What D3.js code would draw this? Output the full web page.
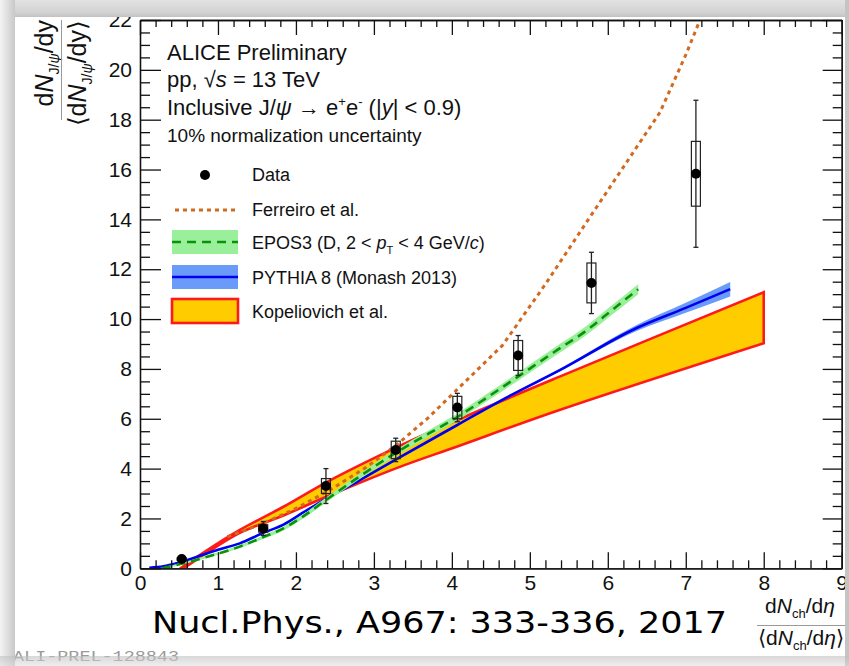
<!DOCTYPE html>
<html>
<head>
<meta charset="utf-8">
<script src="https://cdn.jsdelivr.net/npm/d3@7"></script>
<style>
  html, body { margin: 0; padding: 0; background: #fff; }
  svg { display: block; font-family: "Liberation Sans", Arial, Helvetica, sans-serif; }
</style>
</head>
<body>
<svg id="chart" width="849" height="666"></svg>
<script>
// Self-normalised inclusive J/psi yield vs. self-normalised charged-particle multiplicity

// Measured points
const dataX   = [0.535, 1.58, 2.385, 3.28, 4.07, 4.85, 5.79, 7.13];
const dataY   = [0.37, 1.60, 3.30, 4.75, 6.45, 8.54, 11.45, 15.83];
const statErr = [0.06, 0.28, 0.70, 0.47, 0.57, 0.80, 1.23, 2.95];
const sysErr  = [0.05, 0.15, 0.30, 0.35, 0.45, 0.60, 0.80, 1.30];

// Ferreiro et al.
const ferreiroX = [1.12, 1.58, 2.0, 2.44, 2.9, 3.29, 3.7, 4.06, 4.65, 5.2, 5.73, 6.2, 6.67, 7.0, 7.3];
const ferreiroY = [1.27, 1.8, 2.4, 3.15, 4.05, 4.95, 6.05, 7.15, 8.95, 11.4, 13.9, 16.1, 18.3, 20.6, 22.9];

// EPOS3 (D mesons, 2 < pT < 4 GeV/c)
const eposX   = [0.28, 0.56, 0.85, 1.28, 1.58, 1.84, 2.1, 2.39, 2.8, 3.29, 3.7, 4.06, 4.45, 4.83, 5.3, 5.73, 6.05, 6.39];
const eposY   = [0.0, 0.2, 0.45, 0.87, 1.25, 1.6, 2.1, 2.75, 3.65, 4.65, 5.4, 6.05, 6.85, 7.65, 8.65, 9.55, 10.35, 11.2];
const eposErr = [0.03, 0.04, 0.05, 0.06, 0.07, 0.08, 0.09, 0.1, 0.11, 0.12, 0.13, 0.14, 0.15, 0.16, 0.17, 0.18, 0.19, 0.2];

// PYTHIA 8 (Monash 2013)
const pythiaX   = [0.12, 0.3, 0.47, 0.75, 1.0, 1.28, 1.58, 1.84, 2.1, 2.39, 2.8, 3.29, 4.07, 4.7, 5.39, 6.37, 7.0, 7.57];
const pythiaY   = [0.02, 0.08, 0.2, 0.48, 0.74, 1.0, 1.42, 1.75, 2.25, 2.8, 3.5, 4.38, 5.75, 6.85, 7.96, 9.64, 10.45, 11.2];
const pythiaErr = [0.02, 0.02, 0.02, 0.02, 0.02, 0.02, 0.02, 0.02, 0.02, 0.02, 0.02, 0.03, 0.03, 0.04, 0.05, 0.12, 0.2, 0.29];

// Kopeliovich et al. band edges
const kopUpperX = [0.52, 0.8, 1.28, 1.84, 2.39, 3.29, 4.07, 5.39, 8.0];
const kopUpperY = [0.0, 0.6, 1.54, 2.47, 3.45, 4.85, 5.95, 7.70, 11.08];
const kopLowerX = [0.56, 0.8, 1.28, 1.84, 2.39, 3.29, 4.07, 5.39, 8.0];
const kopLowerY = [0.0, 0.5, 1.42, 2.12, 2.87, 4.02, 4.89, 6.36, 9.03];

// Axis ticks
const xMajor = [0, 1, 2, 3, 4, 5, 6, 7, 8, 9];
const yMajor = [0, 2, 4, 6, 8, 10, 12, 14, 16, 18, 20, 22];

const svg = d3.select("#chart");
const x = d3.scaleLinear().domain([0, 9]).range([140, 841.7]);
const y = d3.scaleLinear().domain([0, 22]).range([568.3, 20]);
const xMinor = d3.range(0, 9.001, 0.2).filter(v => Math.abs(v - Math.round(v)) > 1e-6);
const yMinor = d3.range(0, 22.001, 0.5).filter(v => Math.abs(v / 2 - Math.round(v / 2)) > 1e-6);

const defs = svg.append("defs");
defs.append("clipPath").attr("id", "plotClip")
  .append("rect")
  .attr("x", x(0)).attr("y", y(22))
  .attr("width", x(9) - x(0)).attr("height", y(0) - y(22));

const plot = svg.append("g").attr("clip-path", "url(#plotClip)");

// Kopeliovich band: smooth upper edge, straight right edge, smooth lower edge back
const edge = d3.line().x(d => x(d[0])).y(d => y(d[1])).curve(d3.curveCatmullRom.alpha(0.5));
const upperPts = kopUpperX.map((v, i) => [v, kopUpperY[i]]);
const lowerPts = kopLowerX.map((v, i) => [v, kopLowerY[i]]).reverse();
const kopD = edge(upperPts) + "L" + edge(lowerPts).slice(1) + "Z";
plot.append("path")
  .attr("d", kopD)
  .attr("fill", "#ffcc00").attr("stroke", "#ff1a1a").attr("stroke-width", 2.6)
  .attr("stroke-linejoin", "miter");

// model band / line helpers
function bandPath(xs, ys, es) {
  return d3.area().x((d, i) => x(xs[i])).y0((d, i) => y(ys[i] - es[i])).y1((d, i) => y(ys[i] + es[i]))
    .curve(d3.curveMonotoneX)(xs);
}
function linePath(xs, ys, curve) {
  return d3.line().x((d, i) => x(xs[i])).y((d, i) => y(ys[i])).curve(curve)(xs);
}

// PYTHIA
plot.append("path").attr("d", bandPath(pythiaX, pythiaY, pythiaErr)).attr("fill", "#6b9bf8");
plot.append("path").attr("d", linePath(pythiaX, pythiaY, d3.curveMonotoneX))
  .attr("fill", "none").attr("stroke", "#0000f0").attr("stroke-width", 2.6);

// EPOS3
plot.append("path").attr("d", bandPath(eposX, eposY, eposErr)).attr("fill", "#9af09a");
plot.append("path").attr("d", linePath(eposX, eposY, d3.curveMonotoneX))
  .attr("fill", "none").attr("stroke", "#0a920a").attr("stroke-width", 2.6)
  .attr("stroke-dasharray", "9,6");

// Ferreiro
plot.append("path").attr("d", linePath(ferreiroX, ferreiroY, d3.curveLinear))
  .attr("fill", "none").attr("stroke", "#d2691e").attr("stroke-width", 3)
  .attr("stroke-dasharray", "4,4");

// Data: systematic boxes, statistical bars, markers
const pts = d3.range(dataX.length);
const gData = svg.append("g");
gData.selectAll("rect.sys").data(pts).join("rect")
  .attr("x", i => x(dataX[i]) - 4.5).attr("width", 9)
  .attr("y", i => y(dataY[i] + sysErr[i]))
  .attr("height", i => y(dataY[i] - sysErr[i]) - y(dataY[i] + sysErr[i]))
  .attr("fill", "none").attr("stroke", "#222").attr("stroke-width", 1.2);
gData.selectAll("line.stat").data(pts).join("line")
  .attr("x1", i => x(dataX[i])).attr("x2", i => x(dataX[i]))
  .attr("y1", i => y(dataY[i] - statErr[i])).attr("y2", i => y(dataY[i] + statErr[i]))
  .attr("stroke", "#222").attr("stroke-width", 1.3);
[-1, 1].forEach(s => {
  gData.selectAll(null).data(pts).join("line")
    .attr("x1", i => x(dataX[i]) - 2.5).attr("x2", i => x(dataX[i]) + 2.5)
    .attr("y1", i => y(dataY[i] + s * statErr[i])).attr("y2", i => y(dataY[i] + s * statErr[i]))
    .attr("stroke", "#222").attr("stroke-width", 1.3);
});
gData.selectAll("circle").data(pts).join("circle")
  .attr("cx", i => x(dataX[i])).attr("cy", i => y(dataY[i])).attr("r", 5).attr("fill", "#000");

// Axes (ticks point into the frame)
const axisStyle = g => {
  g.selectAll("path.domain").attr("stroke", "#111").attr("stroke-width", 1.3);
  g.selectAll(".tick line").attr("stroke", "#111").attr("stroke-width", 1.3);
  g.selectAll(".tick text").attr("fill", "#111").attr("font-size", 21)
    .attr("font-family", "'Liberation Sans', Arial, sans-serif");
};
svg.append("g").attr("transform", `translate(0,${y(0)})`)
  .call(d3.axisBottom(x).tickValues(xMinor).tickSize(-8).tickSizeOuter(0).tickFormat(""))
  .call(axisStyle);
svg.append("g").attr("transform", `translate(0,${y(0)})`)
  .call(d3.axisBottom(x).tickValues(xMajor).tickSize(-16).tickSizeOuter(0).tickPadding(7).tickFormat(d3.format("d")))
  .call(axisStyle);
svg.append("g").attr("transform", `translate(0,${y(22)})`)
  .call(d3.axisTop(x).tickValues(xMinor).tickSize(-7).tickSizeOuter(0).tickFormat(""))
  .call(axisStyle);
svg.append("g").attr("transform", `translate(0,${y(22)})`)
  .call(d3.axisTop(x).tickValues(xMajor).tickSize(-15).tickSizeOuter(0).tickFormat(""))
  .call(axisStyle);
svg.append("g").attr("transform", `translate(${x(0)},0)`)
  .call(d3.axisLeft(y).tickValues(yMinor).tickSize(-10).tickSizeOuter(0).tickFormat(""))
  .call(axisStyle);
svg.append("g").attr("transform", `translate(${x(0)},0)`)
  .call(d3.axisLeft(y).tickValues(yMajor).tickSize(-21).tickSizeOuter(0).tickPadding(8).tickFormat(d3.format("d")))
  .call(axisStyle);
svg.append("g").attr("transform", `translate(${x(9)},0)`)
  .call(d3.axisRight(y).tickValues(yMinor).tickSize(-9).tickSizeOuter(0).tickFormat(""))
  .call(axisStyle);
svg.append("g").attr("transform", `translate(${x(9)},0)`)
  .call(d3.axisRight(y).tickValues(yMajor).tickSize(-19).tickSizeOuter(0).tickFormat(""))
  .call(axisStyle);

// Header text
const hdr = svg.append("g").attr("fill", "#111");
hdr.append("text").attr("x", 167).attr("y", 60).attr("font-size", 22).text("ALICE Preliminary");
const t2 = hdr.append("text").attr("x", 167).attr("y", 87).attr("font-size", 22);
t2.append("tspan").text("pp, √");
t2.append("tspan").attr("font-style", "italic").text("s");
t2.append("tspan").text(" = 13 TeV");
const t3 = hdr.append("text").attr("x", 167).attr("y", 115).attr("font-size", 22);
t3.append("tspan").text("Inclusive J/");
t3.append("tspan").attr("font-style", "italic").text("ψ");
t3.append("tspan").text(" → e");
t3.append("tspan").attr("font-size", 13).attr("dy", -9).text("+");
t3.append("tspan").attr("dy", 9).text("e");
t3.append("tspan").attr("font-size", 13).attr("dy", -9).text("-");
t3.append("tspan").attr("dy", 9).text(" (|");
t3.append("tspan").attr("font-style", "italic").text("y");
t3.append("tspan").text("| < 0.9)");
hdr.append("text").attr("x", 167).attr("y", 142).attr("font-size", 19).text("10% normalization uncertainty");

// Legend
const lg = svg.append("g").attr("fill", "#111");
const lgText = 252, lgX0 = 172, lgX1 = 238, lgFs = 18;
lg.append("circle").attr("cx", 205).attr("cy", 175).attr("r", 5).attr("fill", "#000");
lg.append("text").attr("x", lgText).attr("y", 181).attr("font-size", lgFs).text("Data");
lg.append("line").attr("x1", lgX0 + 3).attr("x2", lgX1).attr("y1", 210).attr("y2", 210)
  .attr("stroke", "#d2691e").attr("stroke-width", 3).attr("stroke-dasharray", "4,4");
lg.append("text").attr("x", lgText).attr("y", 216).attr("font-size", lgFs).text("Ferreiro et al.");
lg.append("rect").attr("x", lgX0).attr("y", 230).attr("width", lgX1 - lgX0).attr("height", 24).attr("fill", "#9af09a");
lg.append("line").attr("x1", lgX0).attr("x2", lgX1).attr("y1", 242).attr("y2", 242)
  .attr("stroke", "#0a920a").attr("stroke-width", 2.6).attr("stroke-dasharray", "9,6");
const te = lg.append("text").attr("x", lgText).attr("y", 249).attr("font-size", lgFs);
te.append("tspan").text("EPOS3 (D, 2 < ");
te.append("tspan").attr("font-style", "italic").text("p");
te.append("tspan").attr("font-size", 11).attr("dy", 5).text("T");
te.append("tspan").attr("dy", -5).text(" < 4 GeV/");
te.append("tspan").attr("font-style", "italic").text("c");
te.append("tspan").text(")");
lg.append("rect").attr("x", lgX0).attr("y", 265).attr("width", lgX1 - lgX0).attr("height", 24).attr("fill", "#6b9bf8");
lg.append("line").attr("x1", lgX0).attr("x2", lgX1).attr("y1", 277).attr("y2", 277)
  .attr("stroke", "#0000f0").attr("stroke-width", 2.6);
lg.append("text").attr("x", lgText).attr("y", 284).attr("font-size", lgFs).text("PYTHIA 8 (Monash 2013)");
lg.append("rect").attr("x", lgX0).attr("y", 299).attr("width", lgX1 - lgX0).attr("height", 24)
  .attr("fill", "#ffcc00").attr("stroke", "#ff1a1a").attr("stroke-width", 2.6);
lg.append("text").attr("x", lgText).attr("y", 318).attr("font-size", lgFs).text("Kopeliovich et al.");

// Y axis title (fraction, rotated)
const yt = svg.append("g").attr("fill", "#111").attr("font-size", 25);
const ytn = yt.append("text").attr("transform", "translate(53,20) rotate(-90)").attr("text-anchor", "end");
ytn.append("tspan").text("d");
ytn.append("tspan").attr("font-style", "italic").text("N");
ytn.append("tspan").attr("font-size", 14).attr("dy", 6).text("J/");
ytn.append("tspan").attr("font-size", 14).attr("font-style", "italic").text("ψ");
ytn.append("tspan").attr("dy", -6).text("/dy");
yt.append("line").attr("x1", 61.5).attr("x2", 61.5).attr("y1", 20).attr("y2", 120)
  .attr("stroke", "#999").attr("stroke-width", 1);
const ytd = yt.append("text").attr("transform", "translate(86,20) rotate(-90)").attr("text-anchor", "end");
ytd.append("tspan").text("⟨d");
ytd.append("tspan").attr("font-style", "italic").text("N");
ytd.append("tspan").attr("font-size", 14).attr("dy", 6).text("J/");
ytd.append("tspan").attr("font-size", 14).attr("font-style", "italic").text("ψ");
ytd.append("tspan").attr("dy", -6).text("/dy⟩");

// X axis title (fraction)
const xt = svg.append("g").attr("fill", "#111").attr("font-size", 21);
const xtn = xt.append("text").attr("x", 800).attr("y", 613).attr("text-anchor", "middle");
xtn.append("tspan").text("d");
xtn.append("tspan").attr("font-style", "italic").text("N");
xtn.append("tspan").attr("font-size", 13).attr("dy", 5).text("ch");
xtn.append("tspan").attr("dy", -5).text("/d");
xtn.append("tspan").attr("font-style", "italic").text("η");
xt.append("line").attr("x1", 757).attr("x2", 849).attr("y1", 625.5).attr("y2", 625.5)
  .attr("stroke", "#999").attr("stroke-width", 1);
const xtd = xt.append("text").attr("x", 801).attr("y", 645).attr("text-anchor", "middle");
xtd.append("tspan").text("⟨d");
xtd.append("tspan").attr("font-style", "italic").text("N");
xtd.append("tspan").attr("font-size", 13).attr("dy", 5).text("ch");
xtd.append("tspan").attr("dy", -5).text("/d");
xtd.append("tspan").attr("font-style", "italic").text("η");
xtd.append("tspan").text("⟩");

// Reference annotation
svg.append("text").attr("x", 152).attr("y", 633).attr("font-size", 30)
  .attr("font-family", "'DejaVu Sans', sans-serif").attr("fill", "#000")
  .attr("textLength", 575).attr("lengthAdjust", "spacingAndGlyphs")
  .text("Nucl.Phys., A967: 333-336, 2017");

// Preliminary figure tag
svg.append("text").attr("x", 13).attr("y", 661).attr("font-size", 15)
  .attr("font-family", "'Liberation Mono', 'DejaVu Sans Mono', monospace").attr("fill", "#9a9a9a")
  .attr("textLength", 166).attr("lengthAdjust", "spacingAndGlyphs")
  .text("ALI-PREL-128843");

// Window frame shading
const gTop = defs.append("linearGradient").attr("id", "gTop").attr("x1", 0).attr("x2", 0).attr("y1", 0).attr("y2", 1);
gTop.append("stop").attr("offset", 0).attr("stop-color", "#e2e2e2");
gTop.append("stop").attr("offset", 0.75).attr("stop-color", "#d2d2d2");
gTop.append("stop").attr("offset", 1).attr("stop-color", "#c2c2c2");
const gLeft = defs.append("linearGradient").attr("id", "gLeft").attr("x1", 0).attr("x2", 1).attr("y1", 0).attr("y2", 0);
gLeft.append("stop").attr("offset", 0).attr("stop-color", "#f4f4f4");
gLeft.append("stop").attr("offset", 1).attr("stop-color", "#c8c8c8");
const gBot = defs.append("linearGradient").attr("id", "gBot").attr("x1", 0).attr("x2", 0).attr("y1", 0).attr("y2", 1);
gBot.append("stop").attr("offset", 0).attr("stop-color", "#bdbdbd").attr("stop-opacity", 0.6);
gBot.append("stop").attr("offset", 1).attr("stop-color", "#dcdcdc").attr("stop-opacity", 0.5);
svg.append("rect").attr("x", 0).attr("y", 0).attr("width", 849).attr("height", 17).attr("fill", "url(#gTop)");
svg.append("rect").attr("x", 0).attr("y", 0).attr("width", 15).attr("height", 666).attr("fill", "url(#gLeft)");
svg.append("rect").attr("x", 845).attr("y", 0).attr("width", 4).attr("height", 666).attr("fill", "#c4c4c4");
svg.append("rect").attr("x", 0).attr("y", 656).attr("width", 849).attr("height", 10).attr("fill", "url(#gBot)");
</script>
</body>
</html>
